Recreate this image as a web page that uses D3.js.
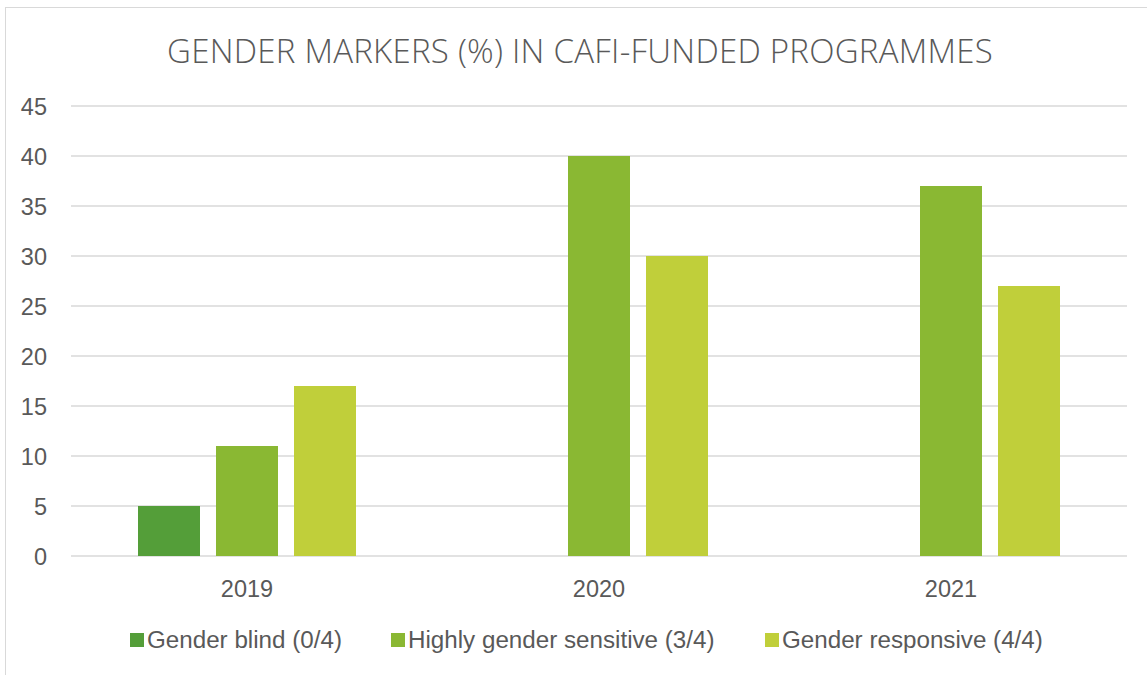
<!DOCTYPE html>
<html><head><meta charset="utf-8">
<script src="https://cdn.jsdelivr.net/npm/d3@7"></script>
<style>body{margin:0;background:#fff}svg{display:block}</style>
</head><body>
<svg id="c" width="1147" height="675"></svg>
<script>
const categories = ["2019", "2020", "2021"];
const seriesNames = ["Gender blind (0/4)", "Highly gender sensitive (3/4)", "Gender responsive (4/4)"];
const genderBlind = [5, 0, 0];
const highlySensitive = [11, 40, 37];
const responsive = [17, 30, 27];
const yTicks = [0, 5, 10, 15, 20, 25, 30, 35, 40, 45];
const colors = ["#549E39", "#8AB833", "#C0CF3A"];
const title = "GENDER MARKERS (%) IN CAFI-FUNDED PROGRAMMES";

const series = [genderBlind, highlySensitive, responsive];
const svg = d3.select("#c");
const W = 1147, H = 675;
const m = {left: 71, right: 1127, top: 106, bottom: 556};
const FONT = "'Liberation Sans', Arial, sans-serif";
const FS = 23.5;

svg.append("rect").attr("x", 5.5).attr("y", 7.5).attr("width", W + 10).attr("height", H + 10)
  .attr("fill", "#fff").attr("stroke", "#d9d9d9").attr("stroke-width", 1);

svg.append("text").attr("x", 580).attr("y", 63).attr("text-anchor", "middle")
  .attr("font-family", "'Open Sans', sans-serif").attr("font-size", 33).attr("font-weight", 300)
  .attr("letter-spacing", 0.25)
  .attr("fill", "#595959").text(title);

const y = d3.scaleLinear().domain([0, 45]).range([m.bottom, m.top]);
const x0 = d3.scaleBand().domain(categories).range([m.left, m.right]);
const x1 = d3.scaleBand().domain(d3.range(3)).range([0, 218]).paddingInner(16/78).paddingOuter(0);

const grid = svg.append("g");
grid.selectAll("line").data(yTicks).join("line")
  .attr("x1", m.left).attr("x2", m.right)
  .attr("y1", d => y(d)).attr("y2", d => y(d))
  .attr("stroke", "#d9d9d9").attr("stroke-width", 1.5);

const yAxis = d3.axisLeft(y).tickValues(yTicks).tickSize(0).tickPadding(0);
const ya = svg.append("g").attr("transform", "translate(47,0)").call(yAxis);
ya.select(".domain").remove();
ya.selectAll("text").attr("font-family", FONT).attr("font-size", FS)
  .attr("fill", "#595959").attr("dy", "0.36em").attr("dx", 0);

const xAxis = d3.axisBottom(x0).tickSize(0).tickPadding(0);
const xa = svg.append("g").attr("transform", `translate(0,${m.bottom})`).call(xAxis);
xa.select(".domain").remove();
xa.selectAll("text").attr("font-family", FONT).attr("font-size", FS)
  .attr("fill", "#595959").attr("dy", 0).attr("y", 41);

const groups = svg.append("g").selectAll("g").data(categories).join("g")
  .attr("transform", d => `translate(${x0(d) + x0.bandwidth()/2 - 109},0)`);
groups.selectAll("rect").data((d, i) => series.map((s, k) => ({k, v: s[i]}))).join("rect")
  .attr("x", d => x1(d.k)).attr("width", x1.bandwidth())
  .attr("y", d => y(d.v)).attr("height", d => y(0) - y(d.v))
  .attr("fill", d => colors[d.k]);

const legendX = [130, 391, 765];
const lg = svg.append("g").selectAll("g").data(seriesNames).join("g")
  .attr("transform", (d, i) => `translate(${legendX[i]},633)`);
lg.append("rect").attr("width", 14).attr("height", 14).attr("fill", (d, i) => colors[i]);
lg.append("text").attr("x", 17).attr("y", 15)
  .attr("font-family", FONT).attr("font-size", 24.2)
  .attr("fill", "#595959").text(d => d);
</script>
</body></html>
